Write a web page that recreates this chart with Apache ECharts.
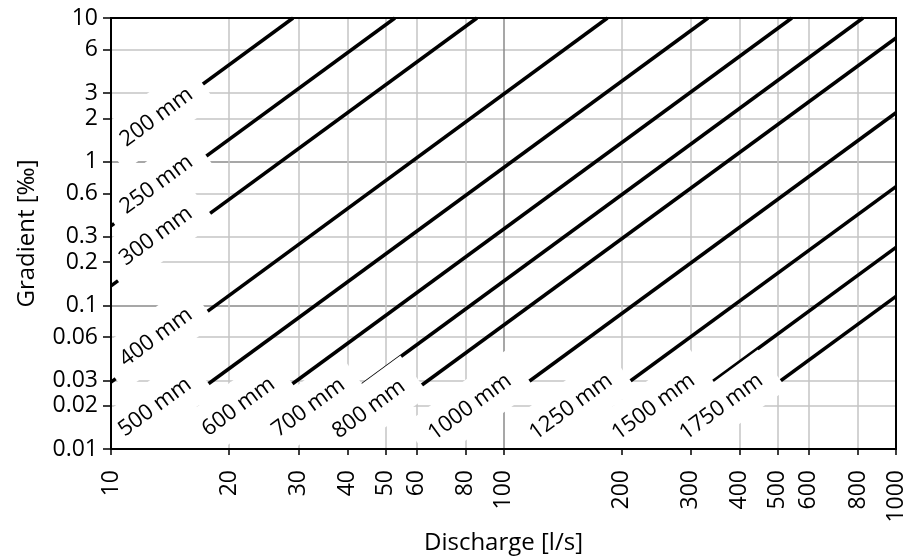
<!DOCTYPE html>
<html><head><meta charset="utf-8">
<script src="https://cdn.jsdelivr.net/npm/echarts@6/dist/echarts.min.js"></script>
<style>html,body{margin:0;padding:0;background:#fff}#c{width:909px;height:560px}</style>
</head><body><div id="c"></div>
<script>
// Pipe diameters (one line each)
const diameters = ['200 mm','250 mm','300 mm','400 mm','500 mm','600 mm','700 mm','800 mm','1000 mm','1250 mm','1500 mm','1750 mm'];
// Lower-left end of each line [discharge l/s, gradient ‰]
const lineStart = [[10,1.18],[10,0.357],[10,0.1365],[10,0.0292],[10.5,0.01],[17.2,0.01],[26.1,0.01],[37.1,0.01],[67.6,0.01],[122,0.01],[199,0.01],[294,0.01]];
// Upper-right end of each line
const lineEnd = [[29.1,10],[52.9,10],[85.6,10],[184,10],[332,10],[543,10],[824,10],[1000,7.26],[1000,2.19],[1000,0.67],[1000,0.253],[1000,0.1155]];
// Label centre of each line
const labelPos = [[13.06,2.04],[13.06,0.692],[13.02,0.304],[13.02,0.060],[12.94,0.0196],[21.13,0.0197],[31.86,0.0194],[45.4,0.019],[82.1,0.0196],[148.6,0.0197],[241,0.0197],[359,0.0197]];
// Axis ticks
const xTicks = [10,20,30,40,50,60,80,100,200,300,400,500,600,800,1000];
const yTicks = [0.01,0.02,0.03,0.06,0.1,0.2,0.3,0.6,1,2,3,6,10];

const FONT = 'Open Sans';
const fmt = v => String(+(+v).toPrecision(3));
const light = '#c4c4c4', dark = '#8a8a8a';

const series = diameters.map((d, i) => ({
  type: 'line', name: d, data: [lineStart[i], lineEnd[i]], symbol: 'none',
  xAxisIndex: 0, yAxisIndex: 0,
  lineStyle: { color: '#000', width: 3.5 }, z: 2, silent: true, clip: true
}));
series.push({
  type: 'scatter', z: 5, silent: true, symbolSize: 1, xAxisIndex: 0, yAxisIndex: 0,
  itemStyle: { color: 'rgba(0,0,0,0)', opacity: 1 },
  clip: false,
  data: labelPos.map((p, i) => ({ value: p, name: diameters[i] })),
  label: {
    show: true, formatter: '{b}', position: 'inside', rotate: 36.3,
    align: 'center', verticalAlign: 'middle', opacity: 1,
    fontFamily: FONT, fontSize: 22, color: '#000', backgroundColor: '#fff',
    padding: [10, 15], lineHeight: 29
  },
  labelLayout: { hideOverlap: false }
});

const xBase = { type: 'log', logBase: 10, min: 10, max: 1000, position: 'bottom' };
const yBase = { type: 'log', logBase: 10, min: 0.01, max: 10, position: 'left' };

const chart = echarts.init(document.getElementById('c'));
chart.setOption({
  animation: false,
  backgroundColor: '#fff',
  grid: { left: 111, right: 13, top: 18, bottom: 110, show: true, borderColor: '#000', borderWidth: 2, z: 10, backgroundColor: 'transparent' },
  xAxis: [
    Object.assign({}, xBase, {
      z: 0, axisLine: { show: false }, axisLabel: { show: false },
      axisTick: { show: false, customValues: xTicks },
      splitLine: { show: true, lineStyle: { color: [dark, light, light, light, light, light, light], width: 1.5 } },
      minorTick: { show: false }, minorSplitLine: { show: false }
    }),
    Object.assign({}, xBase, {
      z: 8,
      name: 'Discharge [l/s]', nameLocation: 'middle', nameGap: 82,
      nameTextStyle: { fontFamily: FONT, fontSize: 24, color: '#000' },
      axisLine: { show: true, lineStyle: { color: '#000', width: 2 } },
      axisTick: { show: true, customValues: xTicks, length: 6, lineStyle: { color: '#000', width: 1.5 } },
      axisLabel: { show: true, customValues: xTicks, rotate: 90, margin: 21, formatter: fmt, fontFamily: FONT, fontSize: 23, color: '#000' },
      splitLine: { show: false }, minorTick: { show: false }, minorSplitLine: { show: false }
    })
  ],
  yAxis: [
    Object.assign({}, yBase, {
      z: 0, axisLine: { show: false }, axisLabel: { show: false },
      axisTick: { show: false, customValues: yTicks },
      splitLine: { show: true, lineStyle: { color: [dark, light, light, light], width: 1.5 } },
      minorTick: { show: false }, minorSplitLine: { show: false }
    }),
    Object.assign({}, yBase, {
      z: 8,
      name: 'Gradient [‰]', nameLocation: 'middle', nameGap: 72,
      nameTextStyle: { fontFamily: FONT, fontSize: 24, color: '#000' },
      axisLine: { show: true, lineStyle: { color: '#000', width: 2 } },
      axisTick: { show: true, customValues: yTicks, length: 8, lineStyle: { color: '#000', width: 1.5 } },
      axisLabel: { show: true, customValues: yTicks, margin: 13, formatter: fmt, fontFamily: FONT, fontSize: 23, color: '#000' },
      splitLine: { show: false }, minorTick: { show: false }, minorSplitLine: { show: false }
    })
  ],
  series: series
});
</script></body></html>
